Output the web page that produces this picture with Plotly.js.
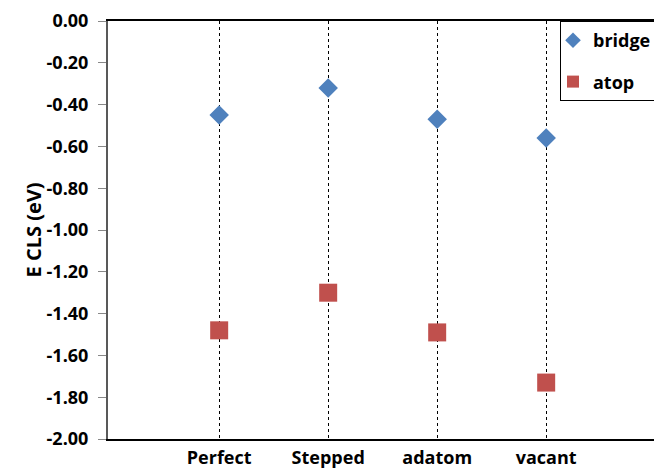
<!DOCTYPE html>
<html>
<head>
<meta charset="utf-8">
<script src="https://cdn.plot.ly/plotly-3.0.1.min.js"></script>
<style>html,body{margin:0;padding:0;background:#fff;overflow:hidden;width:654px;height:468px;}</style>
</head>
<body>
<div id="chart" style="width:690px;height:468px;"></div>
<script>
const categories = ["Perfect", "Stepped", "adatom", "vacant"];
const bridgeValues = [-0.45, -0.32, -0.47, -0.56];
const atopValues = [-1.48, -1.30, -1.49, -1.73];
const yTickValues = [0, -0.2, -0.4, -0.6, -0.8, -1.0, -1.2, -1.4, -1.6, -1.8, -2.0];

const FAM = "Open Sans, sans-serif";
const W = 690, L = 108;

const traces = [
  {
    x: [0, 1, 2, 3], y: bridgeValues, name: "<b>bridge</b>", type: "scatter", mode: "markers",
    legendgroup: "a",
    marker: {symbol: "diamond", size: 15, color: "#4F81BD"}
  },
  {
    x: [0, 1, 2, 3], y: atopValues, name: "<b>atop</b>", type: "scatter", mode: "markers",
    legendgroup: "b",
    marker: {symbol: "square", size: 18, color: "#C0504D"}
  }
];

const layout = {
  width: W, height: 468,
  margin: {l: L, r: 0, t: 21, b: 29},
  paper_bgcolor: "#fff", plot_bgcolor: "#fff",
  font: {family: FAM, size: 18, color: "#000"},
  showlegend: true,
  legend: {
    x: (560 - L) / (W - L), xanchor: "left", y: 1, yanchor: "top",
    bordercolor: "#000", borderwidth: 1, bgcolor: "#fff",
    font: {family: FAM, size: 18, color: "#000"},
    traceorder: "grouped", tracegroupgap: 15, itemwidth: 30,
    indentation: -8, itemsizing: "constant"
  },
  xaxis: {
    range: [-1.02, (W - L) / 109 - 1.02], tickvals: [0, 1, 2, 3],
    ticktext: categories.map(c => "<b>" + c + "</b>"),
    showgrid: true, griddash: "dot", gridcolor: "#000", gridwidth: 1,
    showline: true, linecolor: "#000", linewidth: 2, mirror: true,
    ticks: "", zeroline: false, fixedrange: true,
    ticklabelstandoff: 1,
    tickfont: {family: FAM, size: 18, color: "#000"}
  },
  yaxis: {
    range: [-2, 0], tickvals: yTickValues,
    ticktext: yTickValues.map(v => "<b>" + v.toFixed(2) + "</b>"),
    showgrid: false, zeroline: false,
    showline: true, linecolor: "#595959", linewidth: 2,
    ticks: "outside", ticklen: 8, tickcolor: "#888", tickwidth: 1,
    ticklabelstandoff: 6,
    tickfont: {family: FAM, size: 18, color: "#000"},
    title: {text: "<b>E CLS (eV)</b>", font: {family: FAM, size: 20, color: "#000"}, standoff: 0}
  }
};

Plotly.newPlot("chart", traces, layout, {staticPlot: true, displayModeBar: false});
</script>
</body>
</html>
